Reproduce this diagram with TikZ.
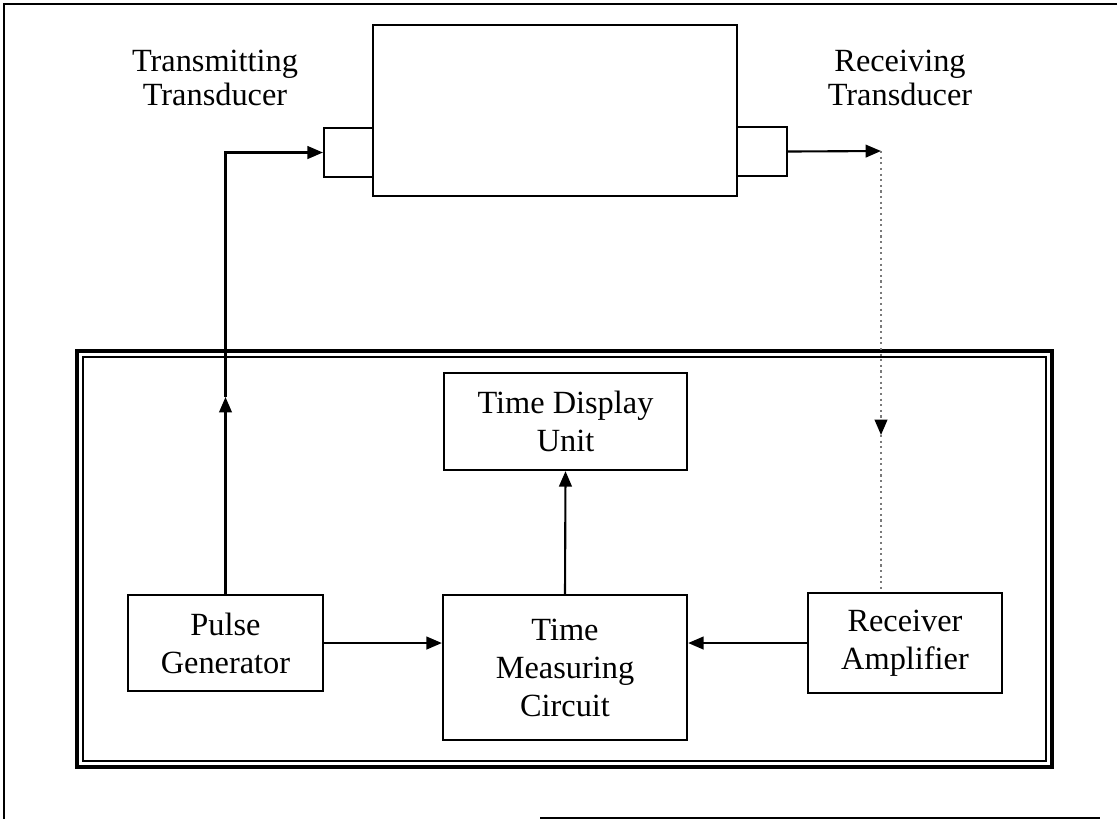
\documentclass[tikz,border=0pt]{standalone}
\usepackage{fontspec}
\setmainfont{Liberation Serif}
\usetikzlibrary{arrows.meta,calc}
\definecolor{wireGray}{HTML}{7A7A7A}
\tikzset{
  blockbox/.style={draw, line width=0.6pt, inner sep=0pt, align=center,
    font=\fontsize{9.2}{10.8}\selectfont},
  labeltext/.style={align=center, inner sep=0pt, font=\fontsize{9.2}{9.6}\selectfont},
  tip/.style={-{Triangle[length=4.4pt,width=3.6pt]}, line width=0.6pt},
}
\begin{document}
\begin{tikzpicture}[x=0.01cm,y=-0.01cm]
\useasboundingbox (0,0) rectangle (1119,820);
% page frame
\draw[line width=0.8pt] (1117,4) -- (4,4) -- (4,819);
\draw[line width=0.8pt] (540,818) -- (1100,818);

% specimen with the two transducers
\node[blockbox, minimum width=3.64cm, minimum height=1.71cm] (spec) at (555,110.5) {};
\node[blockbox, minimum width=0.49cm, minimum height=0.49cm] (tt) at (348.5,152.5) {};
\node[blockbox, minimum width=0.50cm, minimum height=0.49cm] (rt) at (762,151.5) {};
\node[labeltext] (ttlabel) at (215,78) {Transmitting\\Transducer};
\node[labeltext] (rtlabel) at (900,78) {Receiving\\Transducer};

% instrument enclosure (double line)
\draw[line width=1pt] (77,351) rectangle (1052,767);
\draw[line width=0.5pt] (83,357) rectangle (1046,761);

\node[blockbox, minimum width=2.43cm, minimum height=0.97cm] (tdu) at (565.5,421.5) {Time Display\\Unit};
\node[blockbox, minimum width=1.95cm, minimum height=0.96cm] (pg) at (225.5,643) {Pulse\\Generator};
\node[blockbox, minimum width=2.44cm, minimum height=1.45cm] (tmc) at (565,667.5) {Time\\Measuring\\Circuit};
\node[blockbox, minimum width=1.94cm, minimum height=1.00cm] (ra) at (905,643) {Receiver\\Amplifier};

\coordinate (pgmid) at (225.5,397);
\coordinate (rtend) at (881,151);
\coordinate (ramid) at (881,435);

\draw[tip] (pg.north) -- (pgmid);
\draw[tip] (pgmid) |- (tt.west);
\draw[tip] (rt.east) -- (rtend);
\draw[densely dotted, wireGray, line width=0.6pt, -{Triangle[length=4.4pt,width=3.6pt,black]}] (rtend) -- (ramid);
\draw[densely dotted, wireGray, line width=0.6pt] (ramid) -- (ramid |- ra.north);
\draw[tip] (pg.east) -- (tmc.west |- pg.east);
\draw[tip] (ra.west) -- (tmc.east |- ra.west);
\draw[tip] (tmc.north) -- (tdu.south);
\end{tikzpicture}
\end{document}
